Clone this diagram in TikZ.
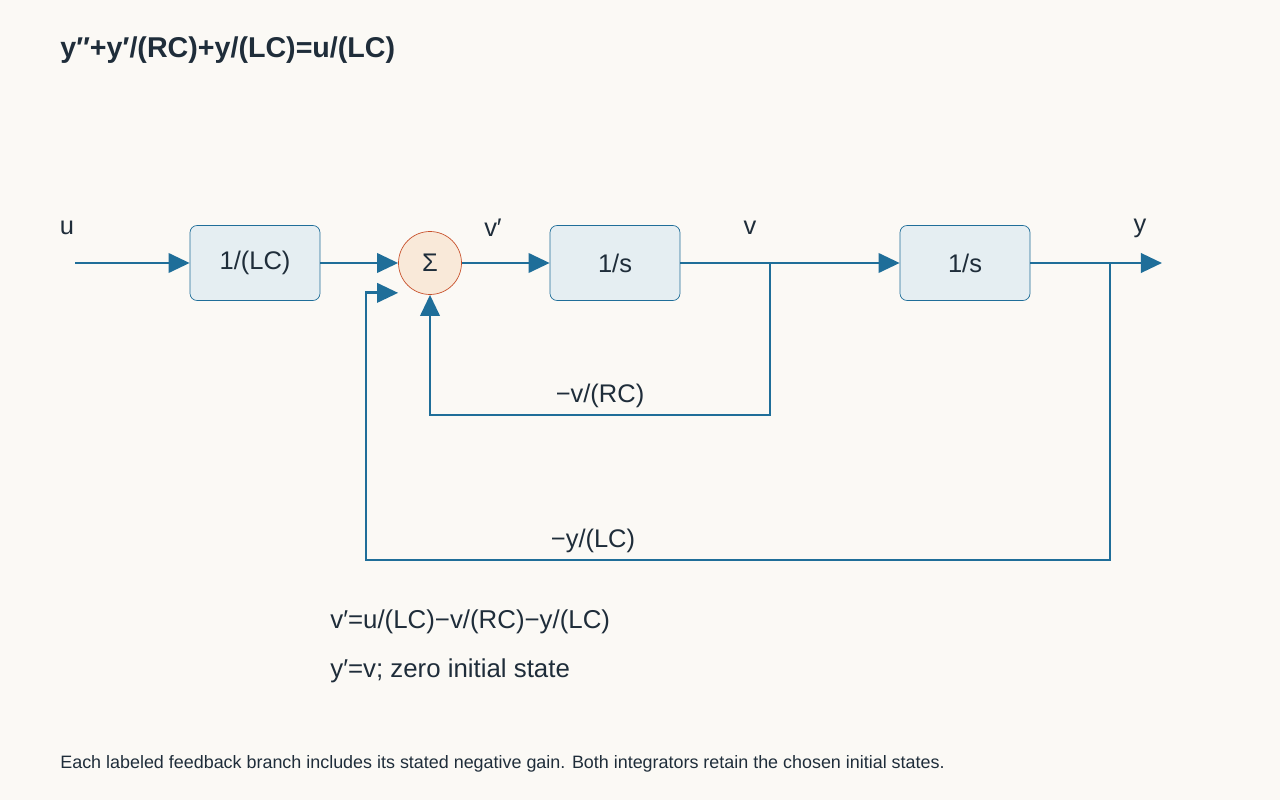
\documentclass[tikz,border=0pt]{standalone}
\usepackage{fontspec}
\setmainfont{Liberation Sans}
\usetikzlibrary{arrows.meta}
\definecolor{bgcol}{HTML}{FBF9F5}
\definecolor{txtcol}{HTML}{1F2D3A}
\definecolor{wirecol}{HTML}{1F6E99}
\definecolor{blkfill}{HTML}{E5EEF2}
\definecolor{sumfill}{HTML}{F9E9D9}
\definecolor{sumdraw}{HTML}{C8502A}
\tikzset{
	blk/.style={draw=wirecol,fill=blkfill,rounded corners=4pt,minimum width=2.6cm,minimum height=1.5cm,text=txtcol,font=\fontsize{14.5}{16}\selectfont},
	sumnode/.style={circle,draw=sumdraw,fill=sumfill,minimum size=1.26cm,inner sep=0pt,text=txtcol,font=\fontsize{14.5}{16}\selectfont},
	wire/.style={draw=wirecol,line width=1.6pt},
	sig/.style={wire,-{Triangle[length=12pt,width=11pt]}},
	lbl/.style={text=txtcol,font=\fontsize{14.5}{16}\selectfont},
}
\begin{document}
\begin{tikzpicture}[x=0.02cm,y=-0.02cm]
	\fill[bgcol] (0,0) rectangle (1280,800);
	\useasboundingbox (0,0) rectangle (1280,800);
	% title and notes
	\node[lbl,anchor=west,inner sep=0pt,font=\fontsize{16.3}{18}\bfseries] (title) at (60,50) {y″+y′/(RC)+y/(LC)=u/(LC)};
	\node[lbl,anchor=west,inner sep=0pt,font=\fontsize{14.7}{16}\selectfont] (eqa) at (330,622) {v′=u/(LC)−v/(RC)−y/(LC)};
	\node[lbl,anchor=west,inner sep=0pt,font=\fontsize{14.7}{16}\selectfont] (eqb) at (330,671) {y′=v; zero initial state};
	\node[lbl,anchor=west,inner sep=0pt,font=\fontsize{10.2}{12}\selectfont] (foot) at (60,764) {Each labeled feedback branch includes its stated negative gain. Both integrators retain the chosen initial states.};
	% blocks
	\coordinate (in) at (75,263);
	\node[blk] (gain) at (255,263) {1/(LC)};
	\node[sumnode] (sum) at (430,263) {Σ};
	\node[blk] (intv) at (615,263) {1/s};
	\node[blk] (inty) at (965,263) {1/s};
	\coordinate (out) at (1162,263);
	\coordinate (tapv) at (770,263);
	\coordinate (tapy) at (1110,263);
	% signal labels
	\node[lbl] (lu) at (67,228) {u};
	\node[lbl] (lvd) at (493,228) {v′};
	\node[lbl] (lv) at (750,228) {v};
	\node[lbl] (ly) at (1140,228) {y};
	% forward path
	\draw[sig] (in) -- (gain.west);
	\draw[sig] (gain.east) -- (sum.west);
	\draw[sig] (sum.east) -- (intv.west);
	\draw[sig] (intv.east) -- (inty.west);
	\draw[sig] (inty.east) -- (out);
	% feedback paths
	\draw[sig] (tapv) |- (600,415) -| (sum.south);
	\node[lbl] (fbv) at (600,396) {−v/(RC)};
	\draw[sig] (tapy) |- (366,560) |- ([yshift=-17]sum.west);
	\node[lbl] (fby) at (593,541) {−y/(LC)};
\end{tikzpicture}
\end{document}
